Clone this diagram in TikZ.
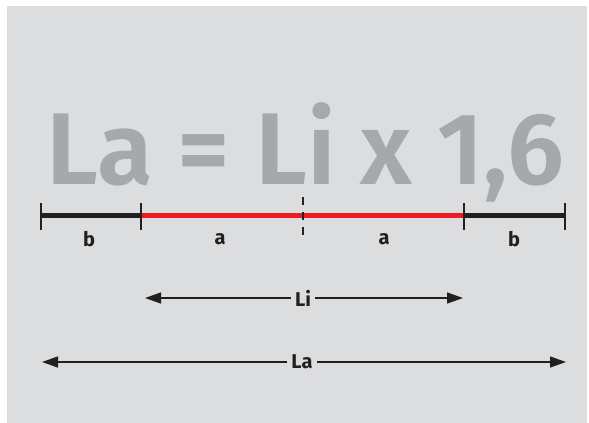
\documentclass[tikz,border=0pt]{standalone}
\usepackage{fontspec}
\setmainfont{Fira Sans}
\newfontfamily\semifont{Fira Sans SemiBold}
\usetikzlibrary{arrows.meta, positioning}
\definecolor{bggray}{HTML}{DCDDDF}
\definecolor{txtgray}{HTML}{A7A8AA}
\definecolor{dimred}{HTML}{ED1C24}
\definecolor{ink}{HTML}{231F20}
\begin{document}
\begin{tikzpicture}[x=1pt, y=-1pt,
    big/.style={font=\semifont\fontsize{102}{102}\selectfont, text=txtgray, inner sep=0pt, anchor=base},
    lbl/.style={font=\bfseries\fontsize{20}{20}\selectfont, text=ink, inner sep=4pt},
    tick/.style={ink, line width=1.2pt},
    seg/.style={line width=5pt},
    arr/.style={-{Triangle[length=16pt, width=11pt]}, ink, line width=1.4pt}
  ]
  \useasboundingbox (0,0) rectangle (589,423);
  \fill[bggray] (7,6) rectangle (587,423);

  % formula
  \node[big] (formula) at (305,184) {La = Li x 1,6};

  % measure line
  \coordinate (t0) at (41,215);
  \coordinate (t1) at (141,215);
  \coordinate (tm) at (303,215);
  \coordinate (t2) at (464,215);
  \coordinate (t3) at (565,215);
  \draw[seg, ink]    (t0) -- (t1);
  \draw[seg, dimred] (t1) -- (t2);
  \draw[seg, ink]    (t2) -- (t3);
  \foreach \t in {t0,t1,t2,t3}
    \draw[tick] ([yshift=12pt]\t) -- ([yshift=-15pt]\t);
  \draw[tick, dash pattern=on 7.5pt off 7.5pt] ([yshift=18pt]tm) -- ([yshift=-19.5pt]tm);

  \node[lbl] (b1) at (89,239)  {b};
  \node[lbl] (a1) at (220,239) {a};
  \node[lbl] (a2) at (384,239) {a};
  \node[lbl] (b2) at (514,239) {b};

  % inner length
  \coordinate (lil) at (145,298);
  \coordinate (lir) at (463,298);
  \node[lbl] (li) at (303,298) {Li};
  \draw[arr] (li) -- (lil);
  \draw[arr] (li) -- (lir);

  % outer length
  \coordinate (lal) at (42,362);
  \coordinate (lar) at (566,362);
  \node[lbl] (la) at (302,362) {La};
  \draw[arr] (la) -- (lal);
  \draw[arr] (la) -- (lar);
\end{tikzpicture}
\end{document}
